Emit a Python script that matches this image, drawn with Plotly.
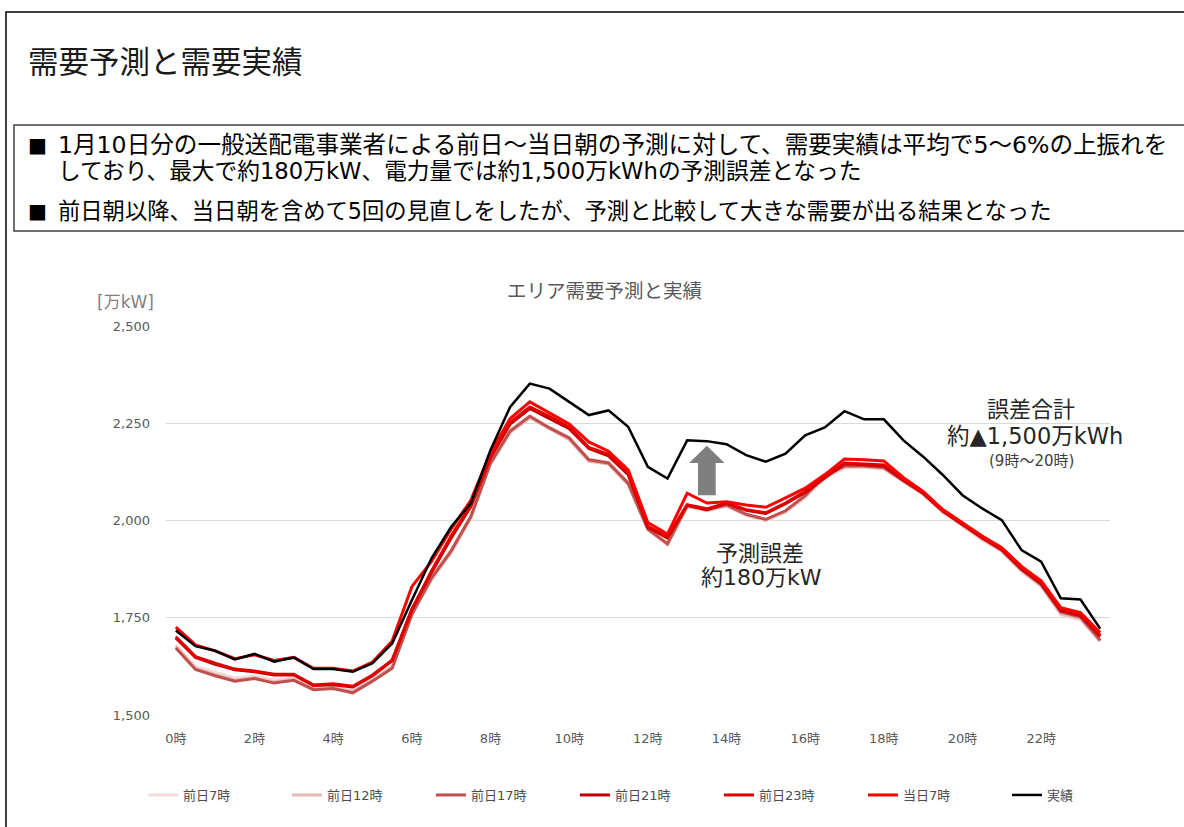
import plotly.graph_objects as go

# Half-hour slots 0:00 ... 23:30
slots = list(range(48))
tick_slots = [0, 4, 8, 12, 16, 20, 24, 28, 32, 36, 40, 44]
tick_labels = ["0時", "2時", "4時", "6時", "8時", "10時", "12時", "14時", "16時", "18時", "20時", "22時"]

# Area demand [万kW]
fc_prev_07 = [1680, 1625, 1610, 1595, 1600, 1590, 1595, 1572, 1575, 1565, 1595, 1628,
              1765, 1855, 1925, 2012, 2150, 2232, 2270, 2240, 2214, 2158, 2150, 2098,
              1982, 1945, 2042, 2030, 2036, 2012, 1998, 2020, 2058, 2108, 2135, 2136,
              2132, 2098, 2066, 2020, 1986, 1950, 1920, 1868, 1830, 1758, 1745, 1688]
fc_prev_12 = [1676, 1620, 1604, 1590, 1596, 1585, 1591, 1567, 1570, 1560, 1589, 1623,
              1760, 1848, 1918, 2007, 2145, 2226, 2264, 2235, 2208, 2152, 2145, 2092,
              1976, 1938, 2036, 2025, 2038, 2015, 2002, 2024, 2062, 2113, 2138, 2138,
              2134, 2100, 2068, 2023, 1988, 1952, 1922, 1871, 1832, 1760, 1748, 1690]
fc_prev_17 = [1672, 1617, 1601, 1587, 1594, 1582, 1589, 1565, 1568, 1557, 1587, 1620,
              1758, 1852, 1922, 2010, 2148, 2230, 2268, 2238, 2212, 2156, 2148, 2096,
              1978, 1940, 2038, 2028, 2040, 2016, 2003, 2025, 2064, 2115, 2140, 2140,
              2136, 2102, 2070, 2025, 1990, 1955, 1924, 1874, 1835, 1765, 1752, 1692]
fc_prev_21 = [1698, 1648, 1630, 1616, 1611, 1603, 1603, 1576, 1578, 1572, 1601, 1640,
              1772, 1866, 1955, 2036, 2162, 2248, 2288, 2262, 2236, 2185, 2166, 2118,
              1983, 1955, 2040, 2028, 2044, 2026, 2018, 2043, 2072, 2110, 2146, 2143,
              2140, 2103, 2070, 2024, 1989, 1956, 1925, 1876, 1838, 1768, 1756, 1702]
fc_prev_23 = [1701, 1650, 1633, 1618, 1613, 1605, 1605, 1577, 1580, 1574, 1603, 1641,
              1770, 1870, 1960, 2040, 2165, 2252, 2292, 2268, 2240, 2188, 2170, 2122,
              1985, 1958, 2040, 2030, 2045, 2028, 2020, 2045, 2075, 2113, 2148, 2145,
              2143, 2105, 2072, 2025, 1990, 1957, 1926, 1878, 1840, 1770, 1758, 1705]
fc_same_07 = [1726, 1680, 1665, 1645, 1655, 1640, 1648, 1620, 1620, 1613, 1636, 1690,
              1830, 1895, 1978, 2052, 2175, 2262, 2305, 2277, 2248, 2202, 2178, 2130,
              1995, 1965, 2070, 2045, 2048, 2040, 2034, 2058, 2083, 2118, 2158, 2156,
              2153, 2110, 2075, 2028, 1993, 1960, 1930, 1882, 1845, 1776, 1763, 1712]
actual = [1717, 1677, 1665, 1643, 1657, 1637, 1648, 1618, 1618, 1611, 1633, 1684,
          1795, 1903, 1984, 2044, 2181, 2292, 2352, 2339, 2305, 2271, 2283, 2241,
          2138, 2108, 2206, 2204, 2196, 2168, 2151, 2172, 2219, 2239, 2281, 2260,
          2260, 2206, 2164, 2117, 2065, 2031, 2001, 1924, 1894, 1800, 1797, 1722]

series = [
    ("前日7時", fc_prev_07, "#F2DCDB", 3),
    ("前日12時", fc_prev_12, "#E6B9B8", 3),
    ("前日17時", fc_prev_17, "#C0504D", 3),
    ("前日21時", fc_prev_21, "#C00000", 3),
    ("前日23時", fc_prev_23, "#E00000", 3),
    ("当日7時", fc_same_07, "#FF0000", 3),
    ("実績", actual, "#000000", 2.5),
]

# Latin glyphs from a wide humanist sans, kanji/kana from Noto CJK
JP = "DejaVu Sans, Noto Sans CJK JP"
W, H = 1184, 827
L, R, T, B = 166, 1110, 326, 715


def px(x):
    return (x - L) / (R - L)


def py(y):
    return (B - y) / (B - T)


fig = go.Figure()
for name, vals, color, width in series:
    fig.add_trace(go.Scatter(x=slots, y=vals, name=name, mode="lines",
                             line=dict(color=color, width=width)))

shapes = [
    # page frame
    dict(type="rect", xref="paper", yref="paper", x0=px(6), x1=px(1200), y0=py(840), y1=py(12),
         line=dict(color="#000000", width=1.5), fillcolor="rgba(0,0,0,0)", layer="below"),
    # summary box
    dict(type="rect", xref="paper", yref="paper", x0=px(14), x1=px(1190), y0=py(231), y1=py(125),
         line=dict(color="#404040", width=1.5), fillcolor="rgba(0,0,0,0)", layer="below"),
    # upward arrow marking the forecast gap
    dict(type="path", xref="x", yref="y",
         path="M 26.55,2065 L 27.45,2065 L 27.45,2148 L 27.9,2148 L 27.0,2192 "
              "L 26.1,2148 L 26.55,2148 Z",
         fillcolor="#7F7F7F", line=dict(width=0)),
]

ann = []


def text(x, y, s, size, color="#000000", xanchor="left"):
    ann.append(dict(xref="paper", yref="paper", x=px(x), y=py(y), text=s, showarrow=False,
                    xanchor=xanchor, yanchor="middle", font=dict(family=JP, size=size, color=color)))


text(26, 62, "需要予測と需要実績", 30.5, "#1A1A1A")
text(26, 145, "■", 20)
text(26, 211, "■", 20)
text(56, 145, "1月10日分の一般送配電事業者による前日～当日朝の予測に対して、需要実績は平均で5～6%の上振れを", 23.6)
text(56, 171, "しており、最大で約180万kW、電力量では約1,500万kWhの予測誤差となった", 22.7)
text(56, 211, "前日朝以降、当日朝を含めて5回の見直しをしたが、予測と比較して大きな需要が出る結果となった", 22.3)
text(604, 291, "エリア需要予測と実績", 19.5, "#595959", "center")
text(95, 302, "[万kW]", 17, "#7F7F7F")
text(760, 553, "予測誤差", 22, "#262626", "center")
text(761, 577, "約180万kW", 22, "#262626", "center")
text(1031, 409, "誤差合計", 22, "#262626", "center")
text(1035, 436, "約▲1,500万kWh", 22.5, "#262626", "center")
text(1031, 461, "(9時～20時)", 15, "#404040", "center")

fig.update_layout(
    width=W, height=H,
    margin=dict(l=L, r=W - R, t=T, b=H - B, pad=0),
    paper_bgcolor="white", plot_bgcolor="white",
    font=dict(family=JP, color="#595959", size=12),
    showlegend=True,
    legend=dict(orientation="h", x=px(143), y=py(795), xanchor="left", yanchor="middle",
                entrywidth=99, entrywidthmode="pixels", itemwidth=30,
                font=dict(family=JP, size=13, color="#4D4D4D"), traceorder="normal"),
    shapes=shapes,
    annotations=ann,
    xaxis=dict(range=[-0.5, 47.5], tickmode="array", tickvals=tick_slots, ticktext=tick_labels,
               showgrid=False, zeroline=False, showline=False, ticks="",
               tickfont=dict(family=JP, size=13, color="#595959"), ticklabelstandoff=14),
    yaxis=dict(range=[1500, 2500], tickmode="array", tickvals=[1500, 1750, 2000, 2250, 2500],
               tickformat=",", showgrid=True, gridcolor="#D9D9D9", gridwidth=1,
               zeroline=False, showline=False, ticks="",
               tickfont=dict(family=JP, size=13, color="#595959"), ticklabelstandoff=15),
)

fig.write_html("out.html")
